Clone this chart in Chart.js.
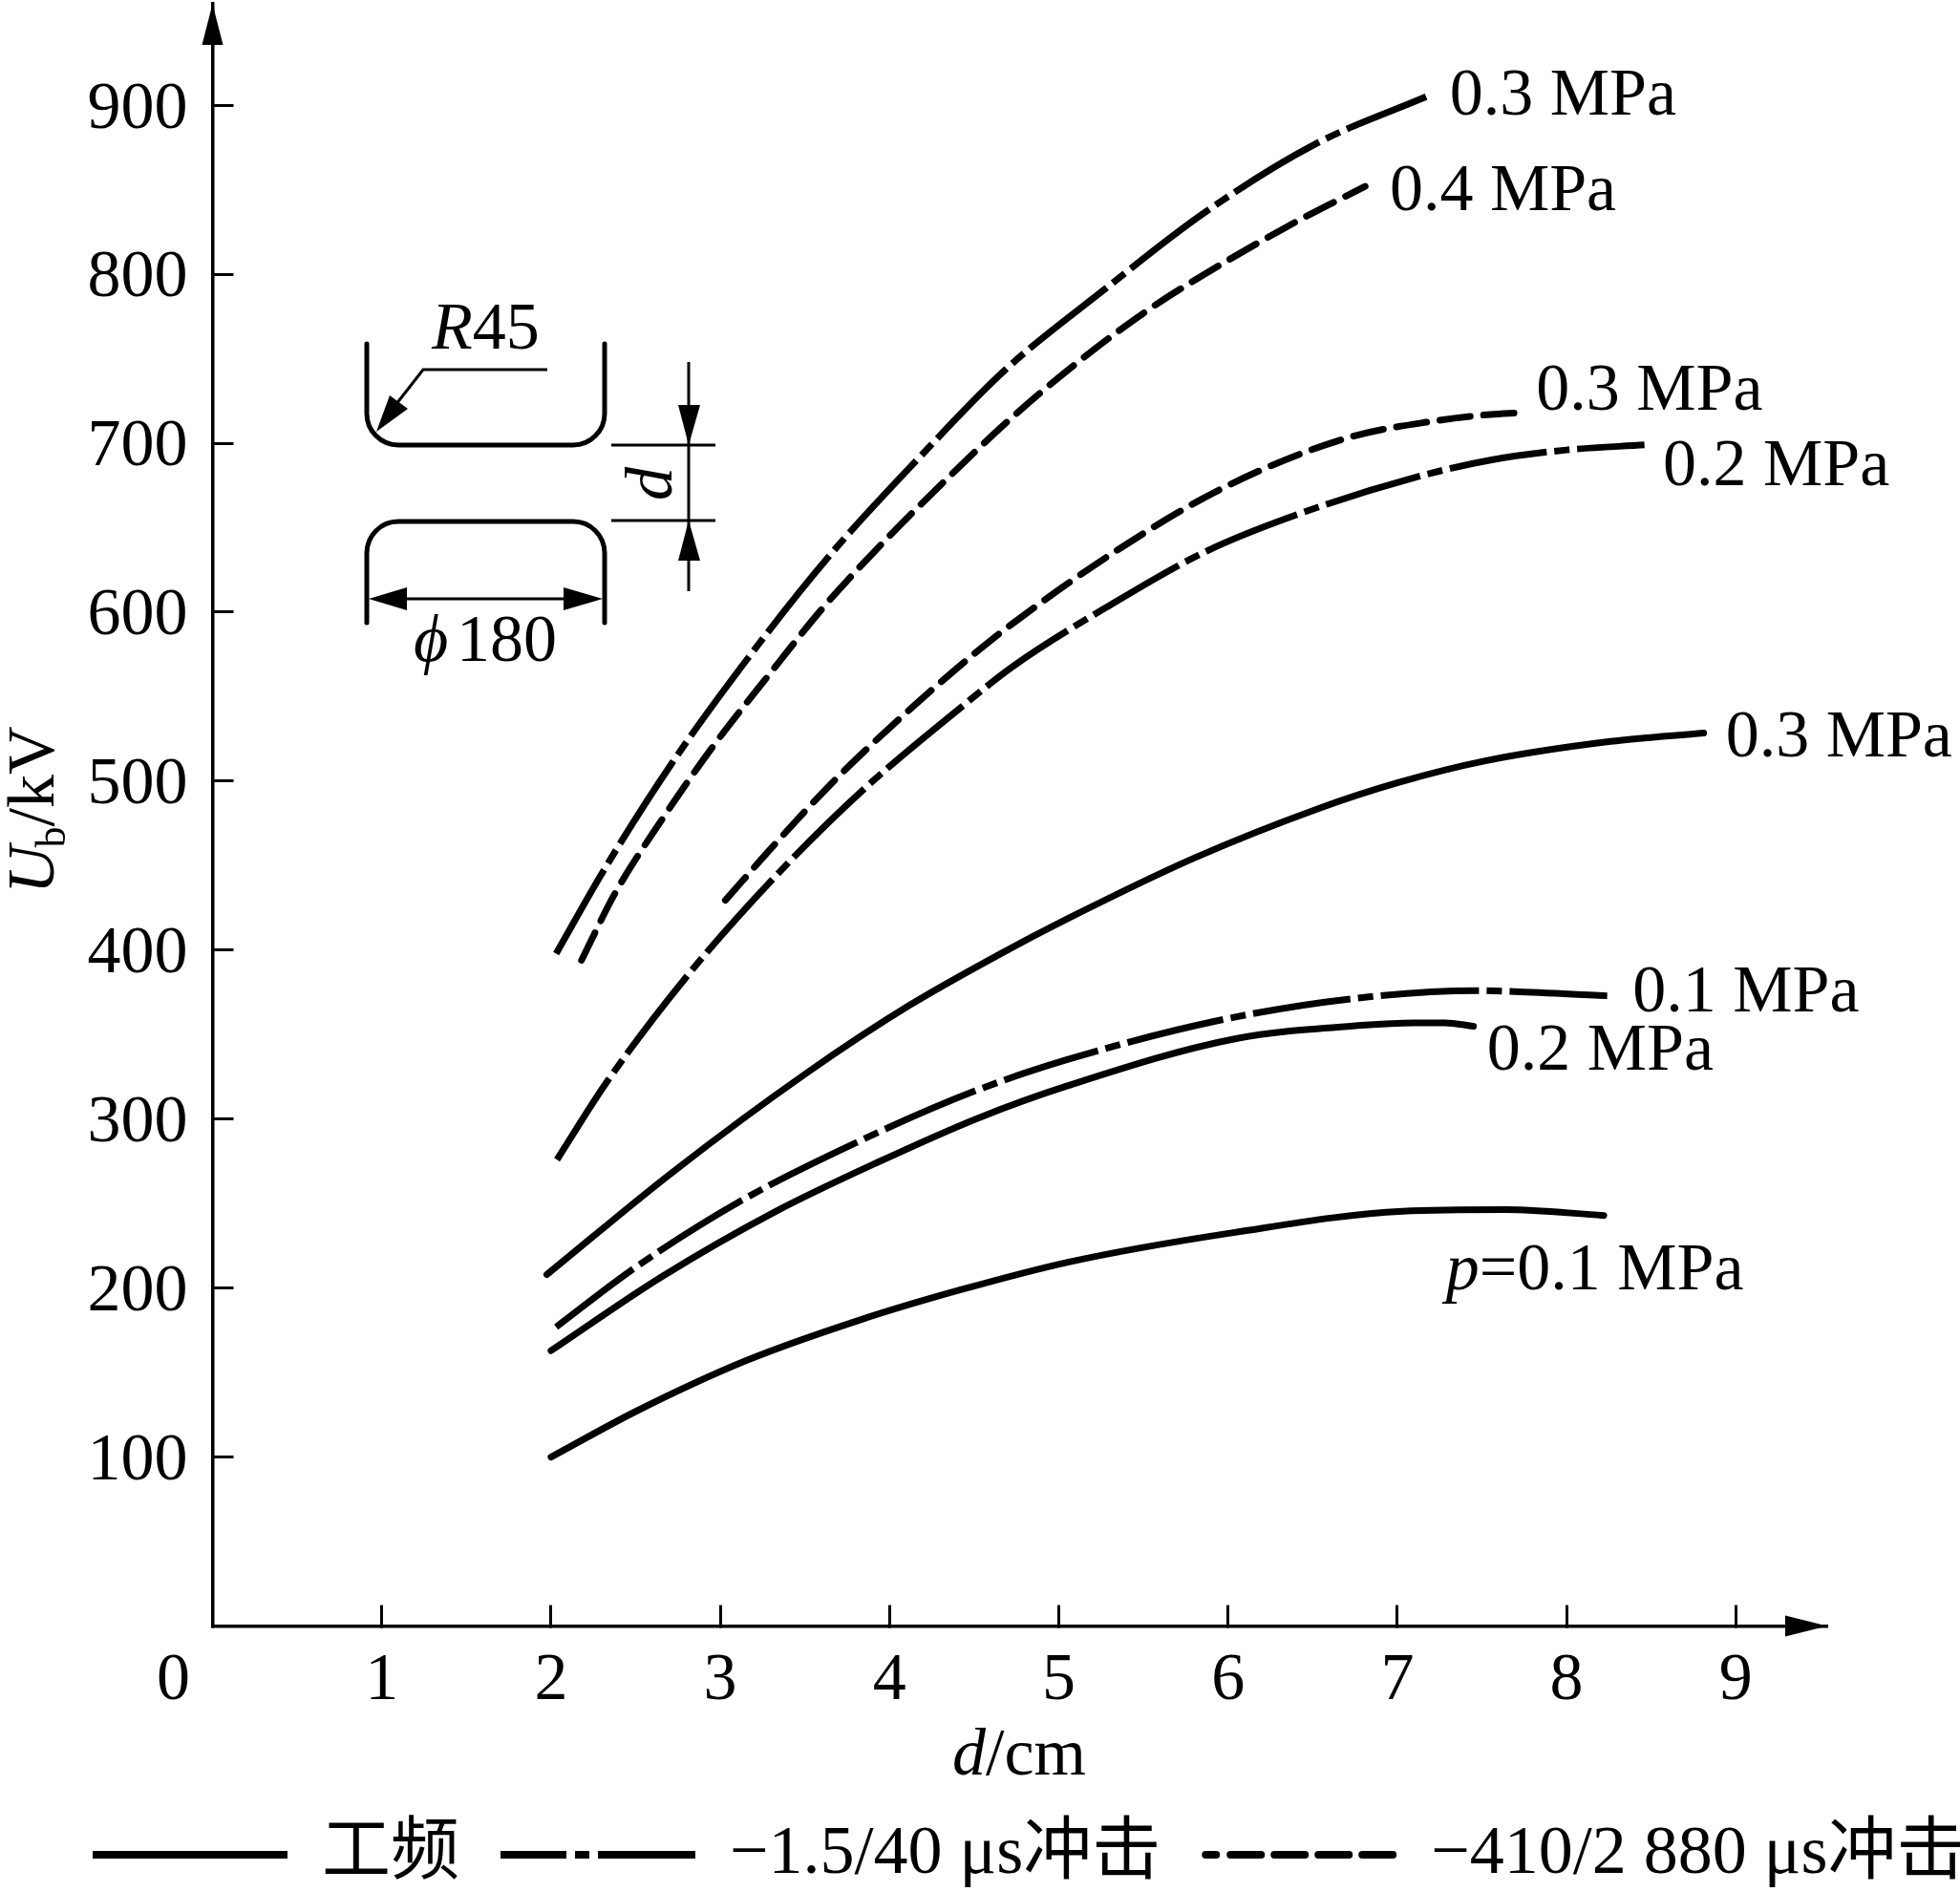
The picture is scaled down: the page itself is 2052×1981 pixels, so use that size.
<!DOCTYPE html>
<html><head><meta charset="utf-8">
<style>html,body{margin:0;padding:0;background:#fff}canvas{display:block}</style>
<script src="https://cdn.jsdelivr.net/npm/chart.js@4"></script>
</head><body><canvas id="c" width="2052" height="1981" style="width:2052px;height:1981px"></canvas>
<script>
const xTicks=[0,1,2,3,4,5,6,7,8,9];
const yTicks=[100,200,300,400,500,600,700,800,900];
const d_pf01=[2,2.51,3.15,3.82,4.42,5.06,6.04,7.03,7.64,8.22];
const u_pf01=[100,127.5,157,181,199,215.5,233,245.5,246.5,243];
const d_pf02=[2,2.65,3.32,3.92,4.52,5.06,6.04,6.79,7.1,7.28,7.45];
const u_pf02=[163,206.5,245,274,300.5,320,347.5,355.5,357,357,355];
const d_pf03=[1.975,2.71,3.52,4.12,4.64,5.06,5.8,6.54,7,7.52,8.26,8.81];
const u_pf03=[208,268,328,367.5,397,419,454.5,484,499,512,523.5,528.5];
const d_li01=[2.03,2.48,3.11,3.8,4.5,5.06,5.95,6.71,7.47,8.24];
const u_li01=[177,211,251,286,316.5,335.5,358.5,371,376,373];
const d_li02=[2.035,2.33,2.79,3.3,3.84,4.42,4.73,5.3,5.87,6.4,7.115,7.55,8,8.46];
const u_li02=[276,322,383,441,494.5,543.5,568,604,636,657.5,680,690,696,699];
const d_li03=[2.03,2.31,2.71,3.165,3.65,4.18,4.69,5.27,5.855,6.515,7.17];
const u_li03=[398,447,510,573,634,692,744,791,836,877,905];
const d_si03=[3.03,3.325,3.68,4.06,4.46,4.71,5.35,5.97,6.7,7.21,7.55,7.72];
const u_si03=[429.5,463,501,537,572,592,637,673.5,703,713,717,718];
const d_si04=[2.18,2.38,2.66,2.96,3.28,3.61,3.95,4.33,4.71,5.1,5.53,5.97,6.42,6.81];
const u_si04=[394,434,478,521,562,603,640,678,714,747,779,806.5,832,852];
const legendNames=['工频','−1.5/40 μs冲击','−410/2 880 μs冲击'];
const curveLabels=['0.3 MPa','0.4 MPa','0.3 MPa','0.2 MPa','0.3 MPa','0.1 MPa','0.2 MPa','=0.1 MPa'];
const labelD=[7.31,6.955,7.82,8.57,8.94,8.39,7.53,7.485];
const labelU=[894.5,838,720,675,514.5,364,329.5,199.5];

const FONT='"Liberation Serif","Noto Sans CJK SC",serif';
const SOLID=[],DASHDOT=[103,8,16,8],DASH=[32,14];
const pts=(a,b)=>a.map((v,i)=>({x:v,y:b[i]}));
const ds=(name,a,b,dash)=>({label:name,data:pts(a,b),borderColor:'#000',borderWidth:7,borderDash:dash,borderDashOffset:dash===DASHDOT?2:0,
  borderCapStyle:dash===DASHDOT?'butt':'round',pointRadius:0,cubicInterpolationMode:'monotone',fill:false});
const datasets=[
 ds('工频 0.1 MPa',d_pf01,u_pf01,SOLID),ds('工频 0.2 MPa',d_pf02,u_pf02,SOLID),ds('工频 0.3 MPa',d_pf03,u_pf03,SOLID),
 ds('−1.5/40 μs 0.1 MPa',d_li01,u_li01,DASHDOT),ds('−1.5/40 μs 0.2 MPa',d_li02,u_li02,DASHDOT),ds('−1.5/40 μs 0.3 MPa',d_li03,u_li03,DASHDOT),
 ds('−410/2 880 μs 0.3 MPa',d_si03,u_si03,DASH),ds('−410/2 880 μs 0.4 MPa',d_si04,u_si04,DASH)];
const legendDash=[[],[69,9,15,9,102,600],[11,15,32,14,32,14,32,14,32,600]];
const legendCap=['round','butt','round'];
const legendOffset=[0,0,-4];

function text(ctx,s,x,y,font,opt){ctx.font=font;ctx.textAlign=opt&&opt.align||'left';ctx.textBaseline='alphabetic';ctx.fillText(s,x,y);return ctx.measureText(s).width;}
function poly(ctx,p){ctx.beginPath();ctx.moveTo(p[0],p[1]);for(let i=2;i<p.length;i+=2)ctx.lineTo(p[i],p[i+1]);ctx.closePath();ctx.fill();}
function seg(ctx,w,p){ctx.lineWidth=w;ctx.beginPath();ctx.moveTo(p[0],p[1]);for(let i=2;i<p.length;i+=2)ctx.lineTo(p[i],p[i+1]);ctx.stroke();}

const annotate={id:'annotate',afterDraw(chart){
  const c=chart.ctx,X=chart.scales.x,Y=chart.scales.y;
  const ax=X.getPixelForValue(0),ay=Y.getPixelForValue(0),right=chart.chartArea.right,top=chart.chartArea.top;
  c.save();c.fillStyle='#000';c.strokeStyle='#000';c.lineCap='butt';c.setLineDash([]);
  poly(c,[ax,top,ax-11,top+43,ax+11,top+43]);
  poly(c,[right,ay,right-44,ay-11,right-44,ay+11]);
  curveLabels.forEach((s,i)=>{
    text(c,s,X.getPixelForValue(labelD[i]),Y.getPixelForValue(labelU[i]),'70px '+FONT);
  });
  text(c,'p',X.getPixelForValue(labelD[7]),Y.getPixelForValue(labelU[7]),'italic 70px '+FONT,{align:'right'});
  text(c,'0',ax-41,ay+76,'70px '+FONT,{align:'center'});
  let w=text(c,'d',997,1858,'italic 70px '+FONT);
  text(c,'/cm',997+w,1858,'70px '+FONT);
  c.save();c.translate(56,936);c.rotate(-Math.PI/2);
  w=text(c,'U',0,0,'italic 70px '+FONT);
  let w2=text(c,'b',w-2,12,'44px '+FONT);
  text(c,'/kV',w-2+w2,0,'70px '+FONT);
  c.restore();
  c.lineWidth=5;c.lineCap='round';
  c.beginPath();c.moveTo(384,360);c.lineTo(384,433);c.arcTo(384,466,418,466,33);c.lineTo(600,466);c.arcTo(633,466,633,433,33);c.lineTo(633,360);c.stroke();
  c.beginPath();c.moveTo(384,652);c.lineTo(384,578);c.arcTo(384,546,418,546,33);c.lineTo(600,546);c.arcTo(633,546,633,578,33);c.lineTo(633,652);c.stroke();
  c.lineCap='butt';
  seg(c,3,[573,387,443,387,404,437]);
  poly(c,[394,452,408,414,427,428]);
  seg(c,3,[721,379,721,619]);
  seg(c,3,[640,466,749,466]);
  seg(c,3,[640,545,749,545]);
  poly(c,[721,466,710,424,733,424]);
  poly(c,[721,545,710,587,733,587]);
  seg(c,3,[420,627,596,627]);
  poly(c,[386,627,426,615,426,639]);
  poly(c,[631,627,590,615,590,639]);
  w=text(c,'R',452,365,'italic 70px '+FONT);
  text(c,'45',452+w,365,'70px '+FONT);
  text(c,'ϕ',433,692,'italic 70px '+FONT);
  text(c,'180',478,692,'70px '+FONT);
  c.save();c.translate(703,524);c.rotate(-Math.PI/2);text(c,'d',0,0,'italic 70px '+FONT);c.restore();
  c.restore();
}};

new Chart(document.getElementById('c'),{
 type:'line',
 data:{datasets},
 plugins:[annotate],
 options:{
  responsive:false,animation:false,devicePixelRatio:1,
  layout:{padding:{left:54,right:-60,top:4,bottom:-7}},
  plugins:{tooltip:{enabled:false},
   legend:{position:'bottom',align:'start',
    labels:{boxWidth:204,boxHeight:0,padding:43,color:'#000',font:{family:FONT,size:72},
     generateLabels:()=>legendNames.map((t,i)=>({text:t,fillStyle:'#000',strokeStyle:'#000',lineWidth:8,lineDash:legendDash[i],lineDashOffset:legendOffset[i],lineCap:legendCap[i],fontColor:'#000',hidden:false,datasetIndex:i}))}}},
  scales:{
   x:{type:'linear',min:0,max:9.54,
    afterBuildTicks:s=>{s.ticks=xTicks.map(v=>({value:v}));},
    afterFit:s=>{s.height=160.4;s.paddingLeft=0;s.paddingRight=0;},
    grid:{drawOnChartArea:false,tickLength:-22,tickWidth:3,tickColor:'#000'},
    border:{display:true,color:'#000',width:3.5},
    ticks:{autoSkip:false,maxRotation:0,padding:38,color:'#000',font:{family:FONT,size:70},callback:v=>v===0?'':String(v)}},
   y:{type:'linear',min:0,max:960,
    afterBuildTicks:s=>{s.ticks=yTicks.map(v=>({value:v}));},
    afterFit:s=>{s.width=168.5;s.paddingTop=0;s.paddingBottom=0;},
    grid:{drawOnChartArea:false,tickLength:-22,tickWidth:3,tickColor:'#000'},
    border:{display:true,color:'#000',width:3.5},
    ticks:{autoSkip:false,padding:48,labelOffset:5,color:'#000',font:{family:FONT,size:70},callback:v=>String(v)}},
   spacer:{type:'linear',position:'right',axis:'y',
    afterFit:s=>{s.width=199;s.paddingTop=0;s.paddingBottom=0;},
    grid:{display:false},border:{display:false},ticks:{display:false}}
  }
 }
});
</script></body></html>
